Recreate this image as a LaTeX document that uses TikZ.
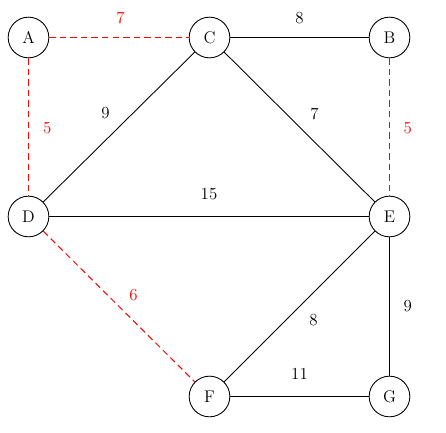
\documentclass[tikz,border=0pt]{standalone}
\usetikzlibrary{positioning}
\begin{document}
\begin{tikzpicture}[x=0.03cm,y=-0.03cm,
  every node/.style={font=\Large},
  vert/.style={circle,draw,line width=0.75pt,minimum size=1.22cm,inner sep=0pt},
  edg/.style={line width=0.75pt},
  redge/.style={color=red,line width=0.85pt,dash pattern=on 5.5pt off 3.5pt},
  lbl/.style={midway,inner sep=0pt},
  rlbl/.style={midway,inner sep=0pt,text=red}]
\useasboundingbox (0,0) rectangle (446,433);
\node[vert] (A) at (28.5,37.5) {A};
\node[vert] (C) at (209.5,37.5) {C};
\node[vert] (B) at (389.5,37.5) {B};
\node[vert] (D) at (28.5,216.5) {D};
\node[vert] (E) at (389.5,216.5) {E};
\node[vert] (F) at (209.5,396.5) {F};
\node[vert] (G) at (389.5,396.5) {G};
\draw[redge] (A) -- (D) node[rlbl,xshift=16pt,yshift=-1pt] {5};
\draw[redge] (D) -- (F) node[rlbl,xshift=12.3pt,yshift=10pt] {6};
\draw[redge] (A) -- (C) node[rlbl,xshift=1.3pt,yshift=17pt] {7};
\draw[redge] (B) -- (E) node[rlbl,xshift=15.5pt,yshift=-1pt] {5};
\draw[edg] (C) -- (B) node[lbl,yshift=17pt] {8};
\draw[edg] (C) -- (D) node[lbl,xshift=-11.5pt,yshift=12.3pt] {9};
\draw[edg] (C) -- (E) node[lbl,xshift=12.8pt,yshift=11.5pt] {7};
\draw[edg] (D) -- (E) node[lbl,yshift=19.5pt] {15};
\draw[edg] (E) -- (F) node[lbl,xshift=12pt,yshift=-12pt] {8};
\draw[edg] (E) -- (G) node[lbl,xshift=15.5pt] {9};
\draw[edg] (F) -- (G) node[lbl,yshift=19pt] {11};
\end{tikzpicture}
\end{document}
